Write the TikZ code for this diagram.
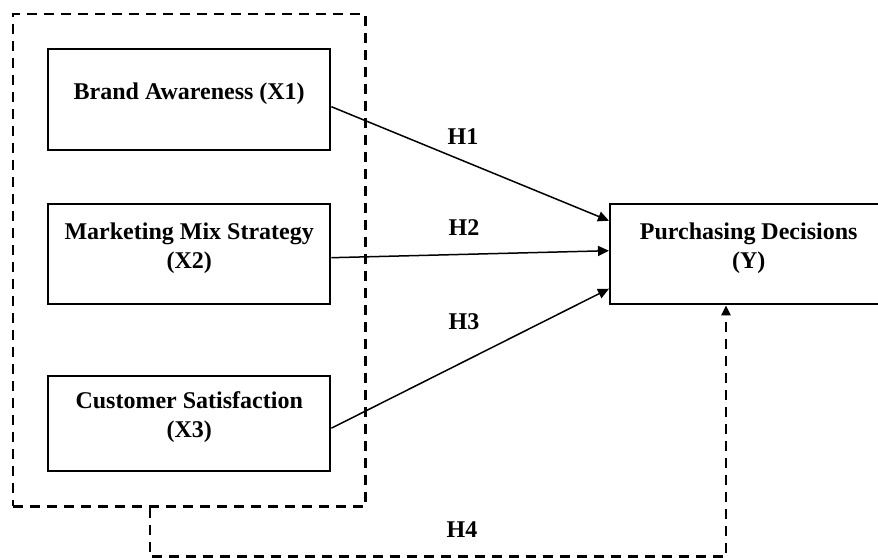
\documentclass[tikz,border=0pt]{standalone}
\usepackage{fontspec}
\setmainfont{Liberation Serif}
\usepackage{tikz}
\usetikzlibrary{positioning,arrows.meta,fit}
\tikzset{
  varbox/.style={draw=black,line width=1.2pt,minimum width=141pt,
    font=\fontsize{12}{14.5}\selectfont\bfseries,
    align=center,inner sep=2pt,text depth=9pt},
  grpbox/.style={draw=black,line width=1.2pt,dash pattern=on 5pt off 3.5pt,
    inner sep=17pt},
  hyplink/.style={line width=0.75pt,-{Triangle[length=5.5pt,width=5pt]}},
  hypdash/.style={line width=1.2pt,dash pattern=on 5pt off 3.5pt,
    -{Triangle[length=5pt,width=4.5pt]}},
  hyplabel/.style={font=\fontsize{12}{14.5}\selectfont\bfseries},
}
\begin{document}
\begin{tikzpicture}[x=0.5pt,y=-0.5pt]
  \useasboundingbox (0,0) rectangle (878,557);
  \node[varbox,minimum height=50.5pt,anchor=north west] (x1) at (47,48) {Brand Awareness (X1)};
  \node[varbox,minimum height=50pt,anchor=north west] (x2) at (47,203) {Marketing Mix Strategy\\(X2)};
  \node[varbox,minimum height=47.5pt,anchor=north west] (x3) at (47,375) {Customer Satisfaction\\(X3)};
  \node[varbox,minimum width=138.5pt,minimum height=50pt,anchor=north west] (yy) at (609,203) {Purchasing Decisions\\(Y)};
  \node[grpbox,fit=(x1)(x3)] (grp) {};
  \node[hyplabel] (h1) at (463,137) {H1};
  \node[hyplabel] (h2) at (464,228) {H2};
  \node[hyplabel] (h3) at (464,322) {H3};
  \node[hyplabel] (h4) at (462,530) {H4};
  \draw[hyplink] ([yshift=-3.5pt]x1.east) -- ([yshift=16.75pt]yy.west);
  \draw[hyplink] ([yshift=-1.75pt]x2.east) -- ([yshift=1.75pt]yy.west);
  \draw[hyplink] ([yshift=-2.25pt]x3.east) -- ([yshift=-17.25pt]yy.west);
  \draw[hypdash] ([xshift=69pt]grp.south west) -- ++(0,-24.5pt) -| ([xshift=58.5pt]yy.south west);
\end{tikzpicture}
\end{document}
